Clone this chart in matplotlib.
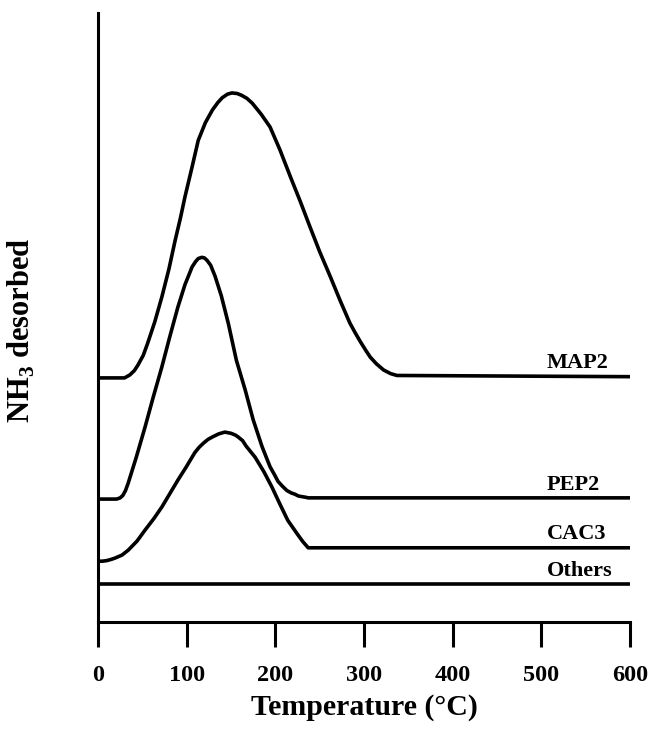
import numpy as np
import matplotlib
matplotlib.use("Agg")
import matplotlib.pyplot as plt

plt.rcParams['font.family'] = ['Liberation Serif', 'DejaVu Serif']
plt.rcParams['font.weight'] = 'bold'
plt.rcParams['mathtext.fontset'] = 'custom'
plt.rcParams['mathtext.rm'] = 'Liberation Serif:bold'
plt.rcParams['mathtext.bf'] = 'Liberation Serif:bold'

# curves (temperature in C, signal in arbitrary units)
map2_t = [0, 30, 36, 41, 45, 51, 56, 64, 72, 80, 87, 93, 98, 106, 113, 121, 129,
          135, 140, 146, 151, 157, 162, 168, 174, 184, 194, 205, 217, 228, 239,
          250, 262, 273, 284, 290, 296, 302, 307, 314, 322, 330, 337, 600]
map2_y = [40.1, 40.1, 40.6, 41.3, 42.2, 43.8, 45.8, 49.3, 53.4, 58.0, 62.7, 66.4,
          69.8, 74.7, 79.1, 82.0, 84.1, 85.3, 86.1, 86.7, 86.9, 86.8, 86.5, 86.0,
          85.2, 83.4, 81.3, 77.6, 73.1, 69.1, 64.9, 60.8, 56.7, 52.8, 49.1, 47.5,
          46.0, 44.6, 43.5, 42.4, 41.4, 40.8, 40.5, 40.3]

pep2_t = [0, 21, 25, 28, 31, 34, 43, 53, 62, 72, 81, 90, 98, 103, 106, 110, 113,
          117, 120, 123, 127, 132, 139, 147, 156, 166, 175, 185, 194, 199, 203,
          208, 213, 218, 222, 226, 230, 234, 237, 600]
pep2_y = [20.2, 20.2, 20.4, 20.8, 21.6, 22.8, 27.0, 32.0, 36.8, 41.9, 46.9, 51.7,
          55.4, 57.2, 58.3, 59.2, 59.7, 59.9, 59.8, 59.4, 58.6, 56.8, 53.6, 49.0,
          43.0, 38.1, 33.2, 28.8, 25.5, 24.2, 23.1, 22.3, 21.6, 21.2, 21.0, 20.7,
          20.6, 20.5, 20.4, 20.4]

cac3_t = [0, 5, 10, 15, 19, 27, 34, 44, 53, 63, 72, 81, 90, 100, 109, 114, 119,
          124, 129, 136, 143, 150, 155, 158, 163, 167, 177, 187, 196, 205, 214,
          225, 231, 237, 600]
cac3_y = [10.0, 10.0, 10.1, 10.3, 10.5, 11.0, 11.8, 13.3, 15.1, 17.0, 18.9, 21.1,
          23.3, 25.6, 27.8, 28.7, 29.4, 30.0, 30.4, 30.9, 31.2, 31.0, 30.7, 30.4,
          29.8, 28.9, 27.1, 24.7, 22.2, 19.4, 16.7, 14.4, 13.2, 12.2, 12.2]

others_t = [0, 600]
others_y = [6.2, 6.2]

labels = ['MAP2', 'PEP2', 'CAC3', 'Others']
temps = [map2_t, pep2_t, cac3_t, others_t]
signals = [map2_y, pep2_y, cac3_y, others_y]
xticks = [0, 100, 200, 300, 400, 500, 600]

fig = plt.figure(figsize=(6.49, 7.31), dpi=100)
ax = fig.add_axes([0.151, 0.149, 0.82, 0.833])

for t, y, lab in zip(temps, signals, labels):
    ax.plot(t, y, color='black', lw=2.6, solid_joinstyle='round',
            solid_capstyle='butt')
    ax.annotate(lab, (506, y[-1]), xytext=(0, 6), textcoords='offset points',
                ha='left', va='baseline', fontsize=16, fontweight='bold')

ax.set_xlim(0, 600)
ax.set_ylim(0, 100)
ax.set_xticks(xticks)
ax.set_yticks([])
for s in ['top', 'right']:
    ax.spines[s].set_visible(False)
for s in ['left', 'bottom']:
    ax.spines[s].set_linewidth(2.2)
ax.tick_params(axis='x', direction='out', length=18, width=2.2, pad=13,
               labelsize=17.5)
for lab in ax.get_xticklabels():
    lab.set_fontweight('bold')

ax.set_xlabel('Temperature (\u00b0C)', fontsize=21.5, fontweight='bold', labelpad=6)
ax.set_ylabel(r'NH$_{3}$ desorbed', fontsize=22, fontweight='bold')
ax.yaxis.set_label_coords(-0.115, 0.48)

fig.savefig('out.png', dpi=100)
